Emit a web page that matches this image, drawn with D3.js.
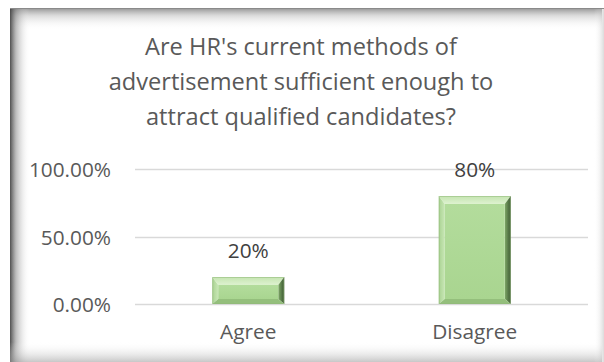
<!DOCTYPE html>
<html>
<head>
<meta charset="utf-8">
<script src="https://cdn.jsdelivr.net/npm/d3@7"></script>
<style>
  html, body { margin: 0; padding: 0; background: #ffffff; }
  svg { display: block; }
</style>
</head>
<body>
<svg id="chart" width="604" height="362"></svg>
<script>
// Survey question and responses
const titleLines = [
  "Are HR's current methods of",
  "advertisement sufficient enough to",
  "attract qualified candidates?"
];
const categories = ["Agree", "Disagree"];
const shares = [0.20, 0.80];
const valueLabels = ["20%", "80%"];
const yTicks = [0, 0.5, 1.0];
const yTickLabels = ["0.00%", "50.00%", "100.00%"];

const W = 604, H = 362;
const svg = d3.select("#chart");
const defs = svg.append("defs");

const font = "'Open Sans', 'DejaVu Sans', sans-serif";
const textColor = "#595959";

// ---- frame with soft inner shadow ----
function linGrad(id, x1, y1, x2, y2, stops) {
  const g = defs.append("linearGradient").attr("id", id)
    .attr("x1", x1).attr("y1", y1).attr("x2", x2).attr("y2", y2);
  stops.forEach(s => g.append("stop").attr("offset", s[0])
    .attr("stop-color", s[1]).attr("stop-opacity", s[2]));
}
linGrad("shTop", 0, 0, 0, 1, [[0, "#6e6e6e", 0.75], [0.35, "#9a9a9a", 0.35], [1, "#ffffff", 0]]);
linGrad("shLeft", 0, 0, 1, 0, [[0, "#3c3c3c", 0.9], [0.3, "#7a7a7a", 0.5], [1, "#ffffff", 0]]);
linGrad("shBottom", 0, 1, 0, 0, [[0, "#9a9a9a", 0.55], [1, "#ffffff", 0]]);
linGrad("shRight", 1, 0, 0, 0, [[0, "#b0b0b0", 0.45], [1, "#ffffff", 0]]);

const frame = { x: 10, y: 8, w: 592, h: 360 };
svg.append("rect").attr("x", frame.x).attr("y", frame.y)
  .attr("width", frame.w).attr("height", frame.h).attr("fill", "#ffffff");
svg.append("rect").attr("x", frame.x).attr("y", frame.y)
  .attr("width", frame.w).attr("height", 22).attr("fill", "url(#shTop)");
svg.append("rect").attr("x", frame.x).attr("y", frame.y)
  .attr("width", 20).attr("height", frame.h).attr("fill", "url(#shLeft)");
svg.append("rect").attr("x", frame.x).attr("y", H - 20)
  .attr("width", frame.w).attr("height", 20).attr("fill", "url(#shBottom)");
svg.append("rect").attr("x", W - 10).attr("y", frame.y)
  .attr("width", 10).attr("height", frame.h).attr("fill", "url(#shRight)");
svg.append("line").attr("x1", frame.x).attr("x2", W).attr("y1", frame.y + 0.5).attr("y2", frame.y + 0.5)
  .attr("stroke", "#8a8a8a").attr("stroke-width", 1);

// ---- title ----
svg.append("g").selectAll("text").data(titleLines).join("text")
  .attr("x", 301).attr("y", (d, i) => 55 + i * 35)
  .attr("text-anchor", "middle")
  .attr("font-family", font).attr("font-size", 23.6)
  .attr("fill", textColor)
  .text(d => d);

// ---- scales ----
const plot = { left: 135, right: 588, top: 169, bottom: 304 };
const x = d3.scaleBand().domain(categories)
  .range([plot.left, plot.right]).paddingInner(0.682).paddingOuter(0.341);
const y = d3.scaleLinear().domain([0, 1]).range([plot.bottom, plot.top]);

// gridlines
svg.append("g").selectAll("line").data(yTicks).join("line")
  .attr("x1", plot.left).attr("x2", plot.right)
  .attr("y1", d => Math.round(y(d)) + 0.5).attr("y2", d => Math.round(y(d)) + 0.5)
  .attr("stroke", "#d9d9d9").attr("stroke-width", 1.3);

// y axis labels
const yAxis = d3.axisLeft(y).tickValues(yTicks)
  .tickFormat((d, i) => yTickLabels[i]).tickSize(0).tickPadding(0);
const yg = svg.append("g").attr("transform", `translate(111,0)`).call(yAxis);
yg.select(".domain").remove();
yg.selectAll("text").attr("font-family", font).attr("font-size", 20.8)
  .attr("fill", textColor).attr("dy", "0.36em");

// x axis labels
const xAxis = d3.axisBottom(x).tickSize(0).tickPadding(0);
const xg = svg.append("g").attr("transform", `translate(0,${plot.bottom + 35})`).call(xAxis);
xg.select(".domain").remove();
xg.selectAll("text").attr("font-family", font).attr("font-size", 20.8)
  .attr("fill", textColor).attr("dy", "0");

// ---- bevelled bars ----
linGrad("bvRight", 0, 0, 1, 0, [[0, "#7fa868", 1], [1, "#3a5630", 1]]);
linGrad("bvTop", 0, 0, 0, 1, [[0, "#c4e4b0", 1], [1, "#def2d0", 1]]);
linGrad("bvLeft", 0, 0, 1, 0, [[0, "#a9d292", 1], [1, "#c8e7b5", 1]]);
linGrad("face", 0, 0, 0, 1, [[0, "#b3dc9c", 1], [1, "#a9d590", 1]]);

const bars = svg.append("g").selectAll("g").data(categories).join("g");
bars.each(function (c, i) {
  const g = d3.select(this);
  const x0 = x(c), x1 = x(c) + x.bandwidth();
  const y0 = y(shares[i]), y1 = y(0);
  const h = y1 - y0;
  const bt = Math.min(8, h / 3.4), bb = Math.min(5, h / 5), bs = 6;
  const pts = a => a.map(p => p.join(",")).join(" ");
  // top
  g.append("polygon").attr("points", pts([[x0, y0], [x1, y0], [x1 - bs, y0 + bt], [x0 + bs, y0 + bt]]))
    .attr("fill", "url(#bvTop)");
  // left
  g.append("polygon").attr("points", pts([[x0, y0], [x0 + bs, y0 + bt], [x0 + bs, y1 - bb], [x0, y1]]))
    .attr("fill", "url(#bvLeft)");
  // right
  g.append("polygon").attr("points", pts([[x1, y0], [x1, y1], [x1 - bs, y1 - bb], [x1 - bs, y0 + bt]]))
    .attr("fill", "url(#bvRight)");
  // bottom
  g.append("polygon").attr("points", pts([[x0, y1], [x0 + bs, y1 - bb], [x1 - bs, y1 - bb], [x1, y1]]))
    .attr("fill", "#94bf7c");
  // face
  g.append("rect").attr("x", x0 + bs).attr("y", y0 + bt)
    .attr("width", x1 - x0 - 2 * bs).attr("height", Math.max(0, h - bt - bb))
    .attr("fill", "url(#face)");
  // thin edge
  g.append("rect").attr("x", x0 + 0.5).attr("y", y0 + 0.5)
    .attr("width", x1 - x0 - 1).attr("height", h - 1)
    .attr("fill", "none").attr("stroke", "#8fb878").attr("stroke-width", 1).attr("stroke-opacity", 0.5);
});

// value labels
svg.append("g").selectAll("text").data(categories).join("text")
  .attr("x", c => x(c) + x.bandwidth() / 2)
  .attr("y", (c, i) => y(shares[i]) - 19)
  .attr("text-anchor", "middle")
  .attr("font-family", font).attr("font-size", 20.8)
  .attr("fill", "#404040")
  .text((c, i) => valueLabels[i]);
</script>
</body>
</html>
